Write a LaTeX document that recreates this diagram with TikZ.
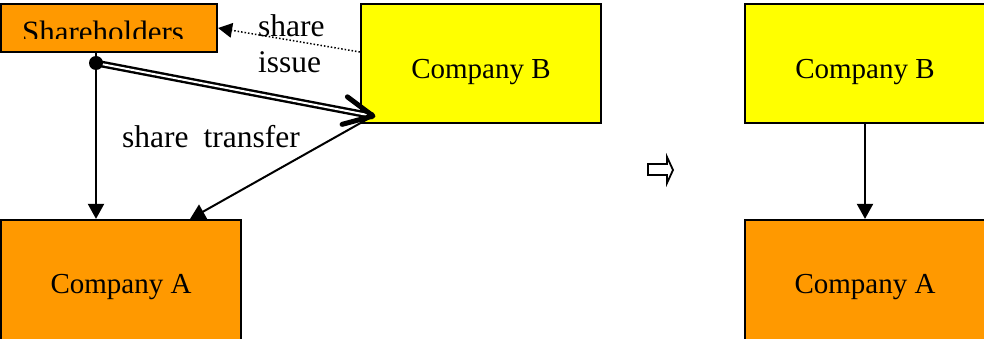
\documentclass[tikz,border=0pt]{standalone}
\usepackage{fontspec}
\setmainfont{Liberation Serif}
\usetikzlibrary{arrows.meta,calc}
\definecolor{org}{HTML}{FF9900}
\definecolor{yel}{HTML}{FFFF00}
\newcommand{\lowtext}[2]{\raisebox{-#1}[0pt][0pt]{#2}}
\begin{document}
\begin{tikzpicture}[x=1pt,y=-1pt,
  box/.style={draw=black, line width=2.2pt, inner sep=0pt, font=\fontsize{29}{31}\selectfont},
  obox/.style={box, fill=org},
  ybox/.style={box, fill=yel},
  arr/.style={line width=2pt, -{Triangle[length=15pt,width=16pt]}},
  dotarr/.style={line width=1.5pt, dotted, -{Triangle[length=14pt,width=15pt,line width=0pt]}},
  lbl/.style={inner sep=0pt, font=\fontsize{31.5}{33}\selectfont}]
\useasboundingbox (0,0) rectangle (984,339);
% boxes
\node[obox, minimum width=216pt, minimum height=48pt] (sh) at (109,28) {};
\begin{scope}
  \clip (2,5) rectangle (216,39);
  \node[inner sep=0pt, anchor=base, font=\fontsize{31}{33}\selectfont] (shtext) at (103,43) {Shareholders};
\end{scope}
\node[ybox, minimum width=240pt, minimum height=119pt] (cb) at (481,63.5) {\lowtext{15.5pt}{Company B}};
\node[obox, minimum width=240pt, minimum height=125pt] (ca) at (121,282.5) {\lowtext{10.5pt}{Company A}};
\node[ybox, minimum width=240pt, minimum height=119pt] (cb2) at (865,63.5) {\lowtext{15.5pt}{Company B}};
\node[obox, minimum width=240pt, minimum height=125pt] (ca2) at (865,282.5) {\lowtext{10.5pt}{Company A}};
% dot and tip
\coordinate (dotc) at (96,63);
\coordinate (tip) at (373,116);
% connectors
\draw[arr] (dotc |- sh.south) -- (dotc |- ca.north);
\draw[line width=2.4pt, double=white, double distance=2pt] (dotc) -- (tip);
\draw[line width=5pt, line cap=round, line join=round]
  ($(tip)!32pt!26:(dotc)$) -- (tip) -- ($(tip)!32pt!-26:(dotc)$);
\draw[arr] (tip) -- (190,219);
\draw[dotarr] ([yshift=11.5pt]cb.west) -- (sh.east);
\draw[arr] (cb2.south) -- (ca2.north);
\node[circle, fill=black, inner sep=0pt, minimum size=14pt] (dot) at (dotc) {};
% labels
\node[lbl, anchor=base west] (l1) at (258,37) {share};
\node[lbl, anchor=base west] (l2) at (258,73) {issue};
\node[lbl, anchor=base west] (l3) at (122,148) {share\hspace{15pt}transfer};
% hollow arrow
\draw[line width=1.8pt, line join=miter] (648,164) -- (667,164) -- (667,157) -- (673,170) -- (667,183) -- (667,175) -- (648,175) -- cycle;
\end{tikzpicture}
\end{document}
